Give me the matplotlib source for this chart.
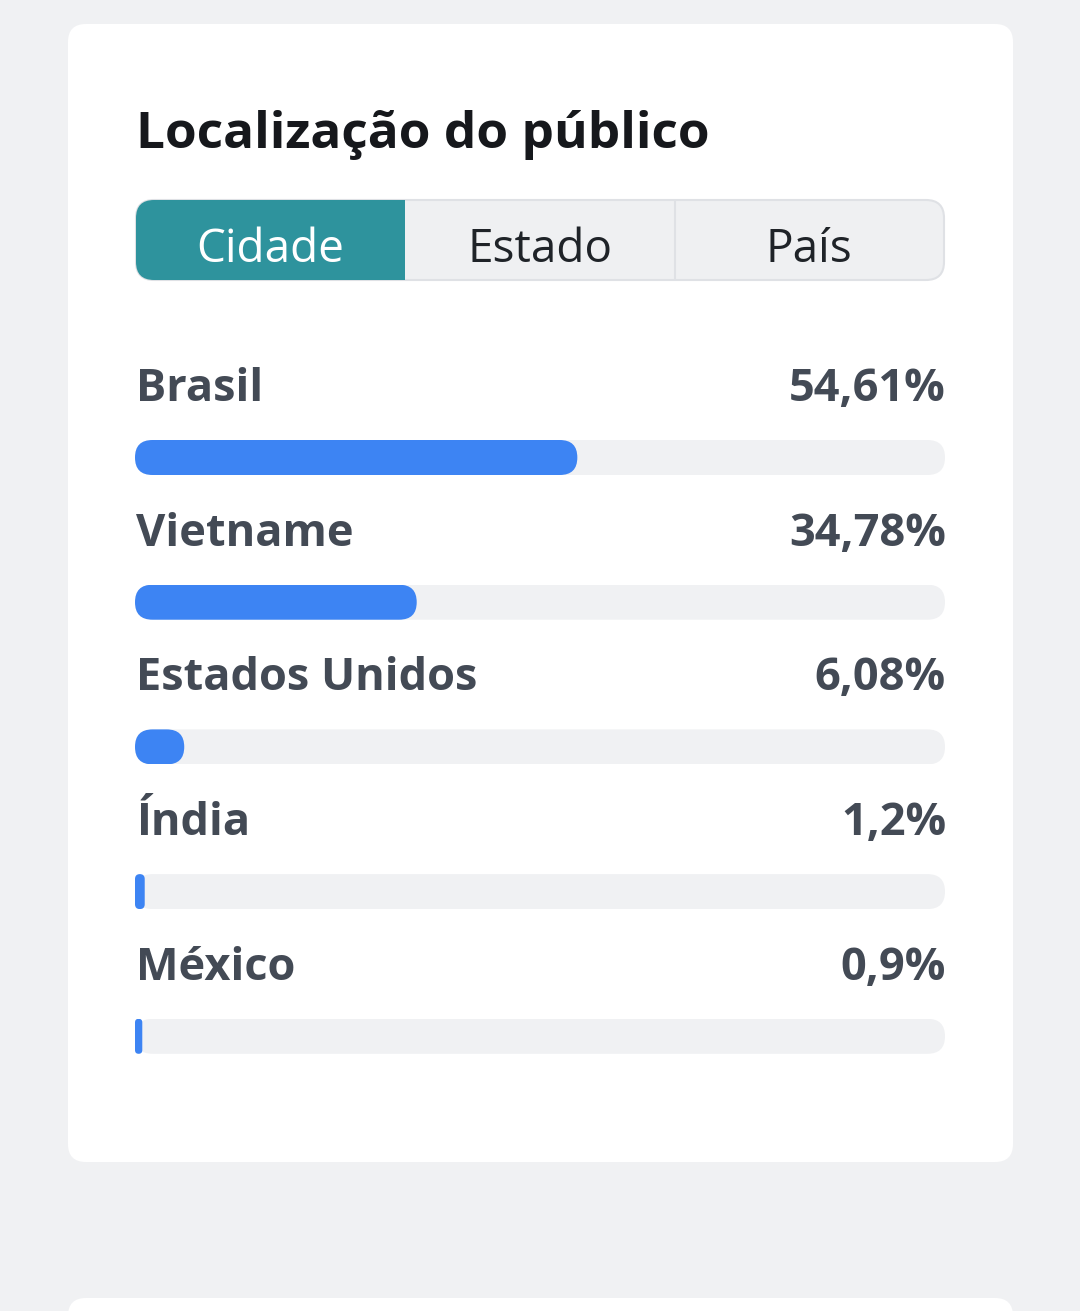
import matplotlib
matplotlib.use("Agg")
import matplotlib.pyplot as plt
from matplotlib.patches import FancyBboxPatch, Rectangle

plt.rcParams['font.family'] = ['Open Sans', 'Noto Sans', 'DejaVu Sans']

title = "Localização do público"
tabs = ["Cidade", "Estado", "País"]
countries = ["Brasil", "Vietname", "Estados Unidos", "Índia", "México"]
shares = [54.61, 34.78, 6.08, 1.2, 0.9]
share_labels = ["54,61%", "34,78%", "6,08%", "1,2%", "0,9%"]

W, H = 1080, 1311
bg = "#f0f1f3"
teal = "#2e939d"
blue = "#3d84f3"
track_col = "#f0f1f3"
label_col = "#434a55"

fig = plt.figure(figsize=(W / 100, H / 100), dpi=100, facecolor=bg)
ax = fig.add_axes([0, 0, 1, 1])
ax.set_xlim(0, W)
ax.set_ylim(H, 0)
ax.axis("off")

# cards
ax.add_patch(FancyBboxPatch((68, 24), 945, 1138, boxstyle="round,pad=0,rounding_size=18",
                            fc="white", ec="none"))
ax.add_patch(FancyBboxPatch((68, 1298), 945, 100, boxstyle="round,pad=0,rounding_size=18",
                            fc="white", ec="none"))

ax.text(136, 148, title, fontsize=37, fontweight="bold", color="#16181c", va="baseline")

# tab selector
tx0, ty0, tw, th = 136, 200, 808, 80
outer = FancyBboxPatch((tx0, ty0), tw, th, boxstyle="round,pad=0,rounding_size=18",
                       fc="#eff0f2", ec="#dfe1e5", lw=1.5)
ax.add_patch(outer)
tab_w = tw / len(tabs)
active = FancyBboxPatch((tx0, ty0), tw, th, boxstyle="round,pad=0,rounding_size=18",
                        fc=teal, ec="none")
ax.add_patch(active)
clip = Rectangle((tx0, ty0), tab_w, th, transform=ax.transData)
active.set_clip_path(clip)
ax.plot([tx0 + 2 * tab_w] * 2, [ty0 + 1, ty0 + th - 1], color="#dfe1e5", lw=1.5)
for i, t in enumerate(tabs):
    ax.text(tx0 + tab_w * (i + 0.5), 262, t, fontsize=33, ha="center", va="baseline",
            color="white" if i == 0 else "#1f2328")

# rows
bx0, bw, bh = 135, 810, 35
row0, step = 401, 144.7
for i, (name, v, lab) in enumerate(zip(countries, shares, share_labels)):
    base = row0 + i * step
    ax.text(136, base, name, fontsize=32.5, fontweight="bold", color=label_col, va="baseline")
    ax.text(946, base, lab, fontsize=32.5, fontweight="bold", color=label_col,
            va="baseline", ha="right")
    top = base + 39
    bax = fig.add_axes([bx0 / W, 1 - (top + bh) / H, bw / W, bh / H])
    hh = bh * 100 / bw
    bax.set_xlim(0, 100)
    bax.set_ylim(0, hh)
    bax.axis("off")
    bax.add_patch(FancyBboxPatch((0, 0), 100, hh,
                                 boxstyle=f"round,pad=0,rounding_size={hh / 2}",
                                 fc=track_col, ec="none"))
    bax.add_patch(FancyBboxPatch((0, 0), v, hh,
                                 boxstyle=f"round,pad=0,rounding_size={min(v, hh) / 2}",
                                 fc=blue, ec="none"))

fig.savefig("out.png", dpi=100, facecolor=bg)
